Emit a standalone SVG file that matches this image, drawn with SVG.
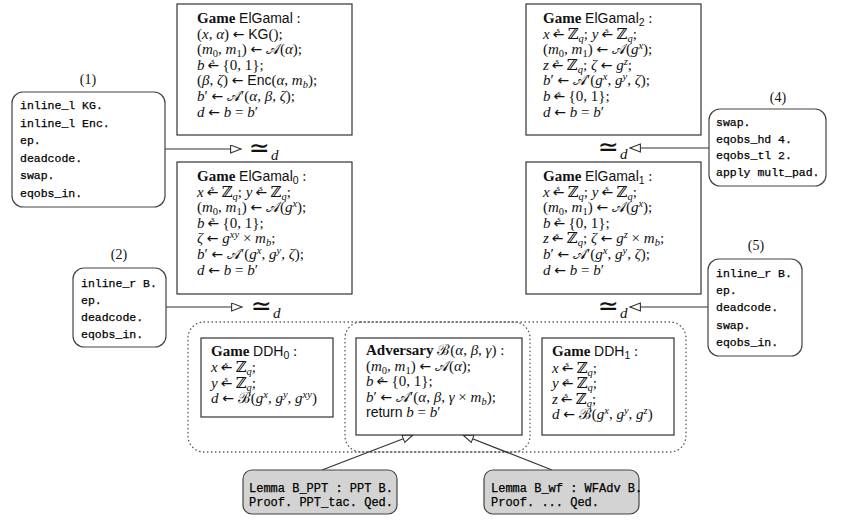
<svg xmlns="http://www.w3.org/2000/svg" width="853" height="521" viewBox="0 0 853 521">
<style>
.m{font-family:"Liberation Serif","DejaVu Serif",serif;font-size:15px;fill:#111}
.it{font-style:italic}
.sf{font-family:"Liberation Sans","DejaVu Sans",sans-serif;font-size:14px}
.bf{font-weight:bold}
.sb{font-size:10.5px}
.ar{font-family:"DejaVu Sans",sans-serif;font-size:14px;font-style:normal}
.dl{font-family:"Liberation Serif",serif;font-size:7px;font-style:normal}
.c{font-family:"Liberation Mono","DejaVu Sans Mono",monospace;font-size:11.5px;fill:#000;stroke:#000;stroke-width:0.25}
.cl{font-size:12px}
.lbl{font-family:"Liberation Serif",serif;font-size:14px;fill:#111;text-anchor:middle}
.box{fill:#fff;stroke:#333;stroke-width:1.2}
.rbox{fill:#fff;stroke:#444;stroke-width:1.2}
.lem{fill:#d3d3d3;stroke:#444;stroke-width:1.2}
.dot{fill:none;stroke:#555;stroke-width:1.3;stroke-dasharray:0.5 3.5;stroke-linecap:round}
.con{stroke:#333;stroke-width:1.2;fill:none;marker-end:url(#tri)}
.eq{font-family:"DejaVu Sans",sans-serif;font-size:25px;fill:#111}
.eqd{font-family:"Liberation Serif",serif;font-style:italic;font-size:15px;fill:#111}
</style>
<defs>
<marker id="tri" markerUnits="userSpaceOnUse" markerWidth="14" markerHeight="12" refX="11" refY="4.5" orient="auto">
<path d="M0.6,0.6 L11,4.5 L0.6,8.4 Z" fill="#fff" stroke="#333" stroke-width="1.1"/>
</marker>
</defs>
<rect width="853" height="521" fill="#fff"/>

<g id="dotted-groups">
<rect class="dot" x="188" y="322" width="342" height="130" rx="16"/>
<rect class="dot" x="345" y="322" width="341" height="130" rx="16"/>
</g>

<g id="connectors">
<line class="con" x1="165" y1="149" x2="241" y2="149"/>
<line class="con" x1="166" y1="307" x2="242" y2="307"/>
<line class="con" x1="709" y1="148" x2="630" y2="148"/>
<line class="con" x1="708" y1="307" x2="630" y2="307"/>
<line class="con" x1="322" y1="470" x2="413" y2="435"/>
<line class="con" x1="552" y1="470" x2="463" y2="435"/>
<text class="eq" x="249" y="156">≃</text><text class="eqd" x="271" y="160">d</text>
<text class="eq" x="251" y="314">≃</text><text class="eqd" x="273" y="318">d</text>
<text class="eq" x="598" y="155">≃</text><text class="eqd" x="620" y="159">d</text>
<text class="eq" x="598" y="314">≃</text><text class="eqd" x="620" y="318">d</text>
</g>

<g id="game-elgamal">
<rect class="box" x="177" y="4" width="175" height="131"/>
<text class="m"><tspan x="197" y="23"><tspan class="bf">Game</tspan> <tspan class="sf">ElGamal</tspan> :</tspan><tspan x="197" y="38.6">(<tspan class="it">x</tspan>, <tspan class="it">α</tspan>) <tspan class="ar">←</tspan> <tspan class="sf">KG</tspan>();</tspan><tspan x="197" y="54.2">(<tspan class="it">m</tspan><tspan class="sb" dy="3">0</tspan><tspan dy="-3">, </tspan><tspan class="it">m</tspan><tspan class="sb" dy="3">1</tspan><tspan dy="-3">) </tspan><tspan class="ar">←</tspan> 𝒜(<tspan class="it">α</tspan>);</tspan><tspan x="197" y="69.8"><tspan class="it">b</tspan><tspan class="ar" dx="3">←</tspan><tspan class="dl" dx="-8" dy="-5.5">$</tspan><tspan dx="4" dy="5.5"> {0, 1};</tspan></tspan><tspan x="197" y="85.4">(<tspan class="it">β</tspan>, <tspan class="it">ζ</tspan>) <tspan class="ar">←</tspan> <tspan class="sf">Enc</tspan>(<tspan class="it">α</tspan>, <tspan class="it">m</tspan><tspan class="sb it" dy="3">b</tspan><tspan dy="-3">);</tspan></tspan><tspan x="197" y="101"><tspan class="it">b</tspan>′ <tspan class="ar">←</tspan> 𝒜′(<tspan class="it">α</tspan>, <tspan class="it">β</tspan>, <tspan class="it">ζ</tspan>);</tspan><tspan x="197" y="116.6"><tspan class="it">d</tspan> <tspan class="ar">←</tspan> <tspan class="it">b</tspan> = <tspan class="it">b</tspan>′</tspan></text>
</g>

<g id="game-elgamal0">
<rect class="box" x="177" y="162" width="175" height="132"/>
<text class="m"><tspan x="197" y="181"><tspan class="bf">Game</tspan> <tspan class="sf">ElGamal</tspan><tspan class="sb sf" dy="3">0</tspan><tspan dy="-3"> :</tspan></tspan><tspan x="197" y="196.6"><tspan class="it">x</tspan><tspan class="ar" dx="3">←</tspan><tspan class="dl" dx="-8" dy="-5.5">$</tspan><tspan dx="4" dy="5.5"> ℤ</tspan><tspan class="sb it" dy="3">q</tspan><tspan dy="-3">; </tspan><tspan class="it">y</tspan><tspan class="ar" dx="3">←</tspan><tspan class="dl" dx="-8" dy="-5.5">$</tspan><tspan dx="4" dy="5.5"> ℤ</tspan><tspan class="sb it" dy="3">q</tspan><tspan dy="-3">;</tspan></tspan><tspan x="197" y="212.2">(<tspan class="it">m</tspan><tspan class="sb" dy="3">0</tspan><tspan dy="-3">, </tspan><tspan class="it">m</tspan><tspan class="sb" dy="3">1</tspan><tspan dy="-3">) </tspan><tspan class="ar">←</tspan> 𝒜(<tspan class="it">g</tspan><tspan class="sb it" dy="-5">x</tspan><tspan dy="5">);</tspan></tspan><tspan x="197" y="227.8"><tspan class="it">b</tspan><tspan class="ar" dx="3">←</tspan><tspan class="dl" dx="-8" dy="-5.5">$</tspan><tspan dx="4" dy="5.5"> {0, 1};</tspan></tspan><tspan x="197" y="243.4"><tspan class="it">ζ</tspan> <tspan class="ar">←</tspan> <tspan class="it">g</tspan><tspan class="sb it" dy="-5">xy</tspan><tspan dy="5"> × </tspan><tspan class="it">m</tspan><tspan class="sb it" dy="3">b</tspan><tspan dy="-3">;</tspan></tspan><tspan x="197" y="259"><tspan class="it">b</tspan>′ <tspan class="ar">←</tspan> 𝒜′(<tspan class="it">g</tspan><tspan class="sb it" dy="-5">x</tspan><tspan dy="5">, </tspan><tspan class="it">g</tspan><tspan class="sb it" dy="-5">y</tspan><tspan dy="5">, </tspan><tspan class="it">ζ</tspan>);</tspan><tspan x="197" y="274.6"><tspan class="it">d</tspan> <tspan class="ar">←</tspan> <tspan class="it">b</tspan> = <tspan class="it">b</tspan>′</tspan></text>
</g>

<g id="game-elgamal2">
<rect class="box" x="526" y="4" width="175" height="131"/>
<text class="m"><tspan x="543" y="23"><tspan class="bf">Game</tspan> <tspan class="sf">ElGamal</tspan><tspan class="sb sf" dy="3">2</tspan><tspan dy="-3"> :</tspan></tspan><tspan x="543" y="38.6"><tspan class="it">x</tspan><tspan class="ar" dx="3">←</tspan><tspan class="dl" dx="-8" dy="-5.5">$</tspan><tspan dx="4" dy="5.5"> ℤ</tspan><tspan class="sb it" dy="3">q</tspan><tspan dy="-3">; </tspan><tspan class="it">y</tspan><tspan class="ar" dx="3">←</tspan><tspan class="dl" dx="-8" dy="-5.5">$</tspan><tspan dx="4" dy="5.5"> ℤ</tspan><tspan class="sb it" dy="3">q</tspan><tspan dy="-3">;</tspan></tspan><tspan x="543" y="54.2">(<tspan class="it">m</tspan><tspan class="sb" dy="3">0</tspan><tspan dy="-3">, </tspan><tspan class="it">m</tspan><tspan class="sb" dy="3">1</tspan><tspan dy="-3">) </tspan><tspan class="ar">←</tspan> 𝒜(<tspan class="it">g</tspan><tspan class="sb it" dy="-5">x</tspan><tspan dy="5">);</tspan></tspan><tspan x="543" y="69.8"><tspan class="it">z</tspan><tspan class="ar" dx="3">←</tspan><tspan class="dl" dx="-8" dy="-5.5">$</tspan><tspan dx="4" dy="5.5"> ℤ</tspan><tspan class="sb it" dy="3">q</tspan><tspan dy="-3">; </tspan><tspan class="it">ζ</tspan> <tspan class="ar">←</tspan> <tspan class="it">g</tspan><tspan class="sb it" dy="-5">z</tspan><tspan dy="5">;</tspan></tspan><tspan x="543" y="85.4"><tspan class="it">b</tspan>′ <tspan class="ar">←</tspan> 𝒜′(<tspan class="it">g</tspan><tspan class="sb it" dy="-5">x</tspan><tspan dy="5">, </tspan><tspan class="it">g</tspan><tspan class="sb it" dy="-5">y</tspan><tspan dy="5">, </tspan><tspan class="it">ζ</tspan>);</tspan><tspan x="543" y="101"><tspan class="it">b</tspan><tspan class="ar" dx="3">←</tspan><tspan class="dl" dx="-8" dy="-5.5">$</tspan><tspan dx="4" dy="5.5"> {0, 1};</tspan></tspan><tspan x="543" y="116.6"><tspan class="it">d</tspan> <tspan class="ar">←</tspan> <tspan class="it">b</tspan> = <tspan class="it">b</tspan>′</tspan></text>
</g>

<g id="game-elgamal1">
<rect class="box" x="526" y="162" width="175" height="132"/>
<text class="m"><tspan x="543" y="181"><tspan class="bf">Game</tspan> <tspan class="sf">ElGamal</tspan><tspan class="sb sf" dy="3">1</tspan><tspan dy="-3"> :</tspan></tspan><tspan x="543" y="196.6"><tspan class="it">x</tspan><tspan class="ar" dx="3">←</tspan><tspan class="dl" dx="-8" dy="-5.5">$</tspan><tspan dx="4" dy="5.5"> ℤ</tspan><tspan class="sb it" dy="3">q</tspan><tspan dy="-3">; </tspan><tspan class="it">y</tspan><tspan class="ar" dx="3">←</tspan><tspan class="dl" dx="-8" dy="-5.5">$</tspan><tspan dx="4" dy="5.5"> ℤ</tspan><tspan class="sb it" dy="3">q</tspan><tspan dy="-3">;</tspan></tspan><tspan x="543" y="212.2">(<tspan class="it">m</tspan><tspan class="sb" dy="3">0</tspan><tspan dy="-3">, </tspan><tspan class="it">m</tspan><tspan class="sb" dy="3">1</tspan><tspan dy="-3">) </tspan><tspan class="ar">←</tspan> 𝒜(<tspan class="it">g</tspan><tspan class="sb it" dy="-5">x</tspan><tspan dy="5">);</tspan></tspan><tspan x="543" y="227.8"><tspan class="it">b</tspan><tspan class="ar" dx="3">←</tspan><tspan class="dl" dx="-8" dy="-5.5">$</tspan><tspan dx="4" dy="5.5"> {0, 1};</tspan></tspan><tspan x="543" y="243.4"><tspan class="it">z</tspan><tspan class="ar" dx="3">←</tspan><tspan class="dl" dx="-8" dy="-5.5">$</tspan><tspan dx="4" dy="5.5"> ℤ</tspan><tspan class="sb it" dy="3">q</tspan><tspan dy="-3">; </tspan><tspan class="it">ζ</tspan> <tspan class="ar">←</tspan> <tspan class="it">g</tspan><tspan class="sb it" dy="-5">z</tspan><tspan dy="5"> × </tspan><tspan class="it">m</tspan><tspan class="sb it" dy="3">b</tspan><tspan dy="-3">;</tspan></tspan><tspan x="543" y="259"><tspan class="it">b</tspan>′ <tspan class="ar">←</tspan> 𝒜′(<tspan class="it">g</tspan><tspan class="sb it" dy="-5">x</tspan><tspan dy="5">, </tspan><tspan class="it">g</tspan><tspan class="sb it" dy="-5">y</tspan><tspan dy="5">, </tspan><tspan class="it">ζ</tspan>);</tspan><tspan x="543" y="274.6"><tspan class="it">d</tspan> <tspan class="ar">←</tspan> <tspan class="it">b</tspan> = <tspan class="it">b</tspan>′</tspan></text>
</g>

<g id="game-ddh0">
<rect class="box" x="201" y="338" width="132" height="79"/>
<text class="m"><tspan x="211" y="356"><tspan class="bf">Game</tspan> <tspan class="sf">DDH</tspan><tspan class="sb sf" dy="3">0</tspan><tspan dy="-3"> :</tspan></tspan><tspan x="211" y="372"><tspan class="it">x</tspan><tspan class="ar" dx="3">←</tspan><tspan class="dl" dx="-8" dy="-5.5">$</tspan><tspan dx="4" dy="5.5"> ℤ</tspan><tspan class="sb it" dy="3">q</tspan><tspan dy="-3">;</tspan></tspan><tspan x="211" y="387.5"><tspan class="it">y</tspan><tspan class="ar" dx="3">←</tspan><tspan class="dl" dx="-8" dy="-5.5">$</tspan><tspan dx="4" dy="5.5"> ℤ</tspan><tspan class="sb it" dy="3">q</tspan><tspan dy="-3">;</tspan></tspan><tspan x="211" y="403"><tspan class="it">d</tspan> <tspan class="ar">←</tspan> ℬ(<tspan class="it">g</tspan><tspan class="sb it" dy="-5">x</tspan><tspan dy="5">, </tspan><tspan class="it">g</tspan><tspan class="sb it" dy="-5">y</tspan><tspan dy="5">, </tspan><tspan class="it">g</tspan><tspan class="sb it" dy="-5">xy</tspan><tspan dy="5">)</tspan></tspan></text>
</g>

<g id="adversary-b">
<rect class="box" x="356" y="338" width="166" height="97"/>
<text class="m"><tspan x="366" y="355"><tspan class="bf">Adversary</tspan> ℬ(<tspan class="it">α</tspan>, <tspan class="it">β</tspan>, <tspan class="it">γ</tspan>) :</tspan><tspan x="366" y="370.5">(<tspan class="it">m</tspan><tspan class="sb" dy="3">0</tspan><tspan dy="-3">, </tspan><tspan class="it">m</tspan><tspan class="sb" dy="3">1</tspan><tspan dy="-3">) </tspan><tspan class="ar">←</tspan> 𝒜(<tspan class="it">α</tspan>);</tspan><tspan x="366" y="386"><tspan class="it">b</tspan><tspan class="ar" dx="3">←</tspan><tspan class="dl" dx="-8" dy="-5.5">$</tspan><tspan dx="4" dy="5.5"> {0, 1};</tspan></tspan><tspan x="366" y="401.5"><tspan class="it">b</tspan>′ <tspan class="ar">←</tspan> 𝒜′(<tspan class="it">α</tspan>, <tspan class="it">β</tspan>, <tspan class="it">γ</tspan> × <tspan class="it">m</tspan><tspan class="sb it" dy="3">b</tspan><tspan dy="-3">);</tspan></tspan><tspan x="366" y="417"><tspan class="sf">return</tspan> <tspan class="it">b</tspan> = <tspan class="it">b</tspan>′</tspan></text>
</g>

<g id="game-ddh1">
<rect class="box" x="542" y="338" width="132" height="97"/>
<text class="m"><tspan x="552" y="356"><tspan class="bf">Game</tspan> <tspan class="sf">DDH</tspan><tspan class="sb sf" dy="3">1</tspan><tspan dy="-3"> :</tspan></tspan><tspan x="552" y="372.5"><tspan class="it">x</tspan><tspan class="ar" dx="3">←</tspan><tspan class="dl" dx="-8" dy="-5.5">$</tspan><tspan dx="4" dy="5.5"> ℤ</tspan><tspan class="sb it" dy="3">q</tspan><tspan dy="-3">;</tspan></tspan><tspan x="552" y="388"><tspan class="it">y</tspan><tspan class="ar" dx="3">←</tspan><tspan class="dl" dx="-8" dy="-5.5">$</tspan><tspan dx="4" dy="5.5"> ℤ</tspan><tspan class="sb it" dy="3">q</tspan><tspan dy="-3">;</tspan></tspan><tspan x="552" y="403.5"><tspan class="it">z</tspan><tspan class="ar" dx="3">←</tspan><tspan class="dl" dx="-8" dy="-5.5">$</tspan><tspan dx="4" dy="5.5"> ℤ</tspan><tspan class="sb it" dy="3">q</tspan><tspan dy="-3">;</tspan></tspan><tspan x="552" y="419"><tspan class="it">d</tspan> <tspan class="ar">←</tspan> ℬ(<tspan class="it">g</tspan><tspan class="sb it" dy="-5">x</tspan><tspan dy="5">, </tspan><tspan class="it">g</tspan><tspan class="sb it" dy="-5">y</tspan><tspan dy="5">, </tspan><tspan class="it">g</tspan><tspan class="sb it" dy="-5">z</tspan><tspan dy="5">)</tspan></tspan></text>
</g>

<g id="tactics-1">
<text class="lbl" x="88" y="84">(1)</text>
<rect class="rbox" x="12" y="92" width="153" height="115" rx="11"/>
<text class="c" x="20" y="109">inline_l KG.</text>
<text class="c" x="20" y="126.6">inline_l Enc.</text>
<text class="c" x="20" y="144.2">ep.</text>
<text class="c" x="20" y="161.8">deadcode.</text>
<text class="c" x="20" y="179.4">swap.</text>
<text class="c" x="20" y="197">eqobs_in.</text>
</g>

<g id="tactics-2">
<text class="lbl" x="119" y="259">(2)</text>
<rect class="rbox" x="73" y="268" width="93" height="79" rx="11"/>
<text class="c" x="81" y="287">inline_r B.</text>
<text class="c" x="81" y="304">ep.</text>
<text class="c" x="81" y="321">deadcode.</text>
<text class="c" x="81" y="338">eqobs_in.</text>
</g>

<g id="tactics-4">
<text class="lbl" x="778" y="102">(4)</text>
<rect class="rbox" x="709" y="109" width="117" height="77" rx="11"/>
<text class="c" x="716" y="126">swap.</text>
<text class="c" x="716" y="142.5">eqobs_hd 4.</text>
<text class="c" x="716" y="159">eqobs_tl 2.</text>
<text class="c" x="716" y="175.5">apply mult_pad.</text>
</g>

<g id="tactics-5">
<text class="lbl" x="756" y="250">(5)</text>
<rect class="rbox" x="708" y="259" width="94" height="97" rx="11"/>
<text class="c" x="716" y="277">inline_r B.</text>
<text class="c" x="716" y="294.2">ep.</text>
<text class="c" x="716" y="311.4">deadcode.</text>
<text class="c" x="716" y="328.6">swap.</text>
<text class="c" x="716" y="345.8">eqobs_in.</text>
</g>

<g id="lemma-b-ppt">
<rect class="lem" x="243" y="470" width="154" height="44" rx="9"/>
<text class="c cl" x="249" y="491.5">Lemma B_PPT : PPT B.</text>
<text class="c cl" x="249" y="505.5">Proof. PPT_tac. Qed.</text>
</g>

<g id="lemma-b-wf">
<rect class="lem" x="484" y="470" width="155" height="44" rx="9"/>
<text class="c cl" x="491" y="491.5">Lemma B_wf : WFAdv B.</text>
<text class="c cl" x="491" y="505.5">Proof. ... Qed.</text>
</g>
</svg>
